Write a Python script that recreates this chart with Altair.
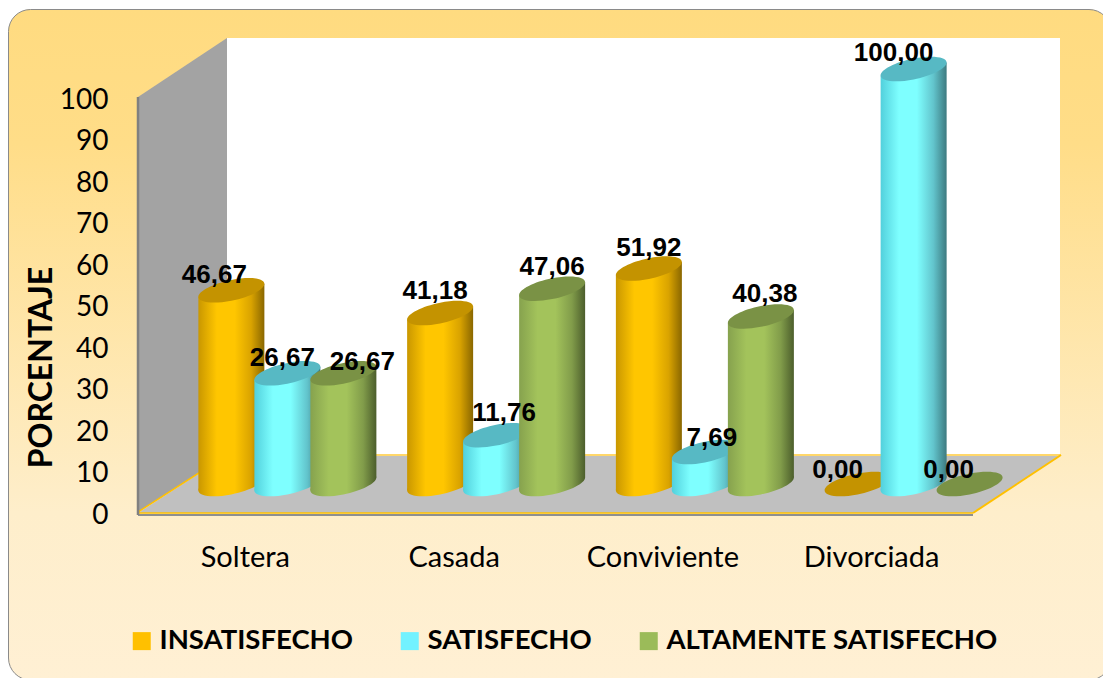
import altair as alt
import pandas as pd

categories = ["Soltera", "Casada", "Conviviente", "Divorciada"]
series = ["INSATISFECHO", "SATISFECHO", "ALTAMENTE SATISFECHO"]
insatisfecho = [46.67, 41.18, 51.92, 0.00]
satisfecho = [26.67, 11.76, 7.69, 100.00]
altamente = [26.67, 47.06, 40.38, 0.00]
values = [insatisfecho, satisfecho, altamente]
y_ticks = list(range(0, 101, 10))

legend_colors = ["#ffc000", "#72f2ff", "#9bbb59"]
top_colors = ["#c49300", "#57b9c4", "#7a9245"]
body_stops = [
    ["#c99700", "#ffc600", "#ffc600", "#d9a300", "#8a6700"],
    ["#52d0dc", "#7effff", "#7effff", "#62c4cc", "#3d7a80"],
    ["#86a24e", "#a3c35b", "#a3c35b", "#819c4a", "#4c5e2c"],
]
stop_offsets = [0.0, 0.28, 0.55, 0.8, 1.0]

# label nudges in pixels (x, y) relative to each cylinder's top centre
label_dx = [[-17, -5, 0, -20], [-5, 8, 7, -20], [19, 0, 4, -21]]
label_dy = [[-15, -22, -21, -14], [-15, -22, -14, -16], [-11, -22, -22, -14]]

W, H = 835, 415
PL, PT = 130, 89
TOTAL_W, TOTAL_H = 1095, 670
SLOPE_PX, SEMI_MINOR = 6.5, 10.4
SEMI_X = 33
PX_PER_UNIT_Y = 4.15
STEP = W / 4
SERIES_OFFSET = 56

x_scale = alt.Scale(domain=[0, 4], range=[45, 880], nice=False, zero=False)
y_scale = alt.Scale(domain=[0, 100], range=[387, -28], nice=False, zero=False)


def ellipse_path():
    k = 0.5523
    def P(c, s):
        return f"{SEMI_X*c:.2f},{-SLOPE_PX*c + SEMI_MINOR*s:.2f}"
    return (f"M{P(1,0)} C{P(1,k)} {P(k,1)} {P(0,1)} "
            f"C{P(-k,1)} {P(-1,k)} {P(-1,0)} "
            f"C{P(-1,-k)} {P(-k,-1)} {P(0,-1)} "
            f"C{P(k,-1)} {P(1,-k)} {P(1,0)} Z")


ELLIPSE = ellipse_path()
one = pd.DataFrame({"a": [0]})

# ---- frame ----
frame = alt.Chart(one).mark_rect(
    fill=alt.Gradient(gradient="linear", x1=0, x2=0, y1=0, y2=1, stops=[
        alt.GradientStop(color="#ffdb80", offset=0),
        alt.GradientStop(color="#ffdd88", offset=0.2),
        alt.GradientStop(color="#feeecb", offset=0.75),
        alt.GradientStop(color="#fff0d4", offset=1),
    ]),
    stroke="#8a8a8a", strokeWidth=1, cornerRadius=22,
).encode(x=alt.value(-129.5), x2=alt.value(973), y=alt.value(-87.5), y2=alt.value(583))

# ---- legend (hidden beneath the frame) ----
legend_layer = alt.Chart(pd.DataFrame({"s": series, "a": [0, 0, 0]})).mark_square(size=1, opacity=1).encode(
    x=alt.value(10), y=alt.value(10),
    color=alt.Color("s:N", sort=series,
                    scale=alt.Scale(domain=series, range=legend_colors),
                    legend=alt.Legend(orient="none", legendX=-10, legendY=530, direction="horizontal",
                                      columns=3, title=None, symbolType="square", symbolSize=324,
                                      symbolStrokeWidth=0, labelFont="Lato", labelFontWeight="bold",
                                      labelFontSize=27.5, labelColor="#000000", labelOffset=4,
                                      columnPadding=43, labelLimit=500)),
)


def poly_v(xs, tops, bots, color):
    return alt.Chart(pd.DataFrame({"x": xs, "t": tops, "b": bots})).mark_area(color=color, opacity=1).encode(
        x=alt.X("x:Q", scale=None, axis=None),
        y=alt.Y("t:Q", scale=None, axis=None),
        y2="b:Q",
    )


left_wall = poly_v([0, 89], [0, -59], [415, 358], "#a3a3a3")
back_wall = poly_v([89, 922], [-59, -59], [358, 358], "#ffffff")
floor = alt.Chart(pd.DataFrame({"y": [358.5, 416], "a": [89, 0], "b": [923, 835]})).mark_area(
    color="#c0c0c0", orient="horizontal", opacity=1).encode(
    y=alt.Y("y:Q", scale=None, axis=None),
    x=alt.X("a:Q", scale=None, axis=None),
    x2="b:Q",
)


def edge(x1, y1, x2, y2, color, w):
    return alt.Chart(one).mark_rule(color=color, strokeWidth=w).encode(
        x=alt.value(x1), y=alt.value(y1), x2=alt.value(x2), y2=alt.value(y2))


edges = [
    edge(89, 358, 923, 358, "#ffd76a", 2),
    edge(0, 415, 89, 358, "#ffc000", 1.5),
    edge(835, 416, 923, 358, "#ffc000", 2),
    edge(0, 416, 835, 416, "#ffc000", 1.5),
    edge(0, 418, 835, 418, "#8f8f8f", 2),
    edge(0, 0, 0, 418, "#808080", 2.5),
]

# ---- cylinders ----
cyl_layers = []
for si, name in enumerate(series):
    rows, tops = [], []
    for ci in range(len(categories)):
        v = values[si][ci]
        pos = ci + 0.5 + (si - 1) * SERIES_OFFSET / STEP
        tops.append({"pos": pos, "v": v, "base": 0})
        if v > 0:
            half_x = SEMI_X / STEP
            slope = SLOPE_PX / PX_PER_UNIT_Y
            rows.append({"c": ci, "x": pos - half_x, "top": v - slope, "bot": -slope})
            rows.append({"c": ci, "x": pos + half_x, "top": v + slope, "bot": slope})
    grad = alt.Gradient(gradient="linear", x1=0, x2=1, y1=0, y2=0, stops=[
        alt.GradientStop(color=c, offset=o) for c, o in zip(body_stops[si], stop_offsets)])
    tdf = pd.DataFrame(tops)
    bottom = alt.Chart(tdf[tdf.v > 0]).mark_point(shape=ELLIPSE, filled=True, size=4, opacity=1, fill=grad, strokeWidth=0).encode(
        x=alt.X("pos:Q", scale=x_scale, axis=None),
        y=alt.Y("base:Q", scale=y_scale, axis=None),
    )
    body = alt.Chart(pd.DataFrame(rows)).mark_area(fill=grad, opacity=1).encode(
        x=alt.X("x:Q", scale=x_scale, axis=None),
        y=alt.Y("top:Q", scale=y_scale, axis=None),
        y2="bot:Q",
        detail="c:N",
    )
    top = alt.Chart(tdf).mark_point(shape=ELLIPSE, filled=True, size=4, opacity=1, fill=top_colors[si], strokeWidth=0).encode(
        x=alt.X("pos:Q", scale=x_scale, axis=None),
        y=alt.Y("v:Q", scale=y_scale, axis=None),
    )
    cyl_layers += [bottom, body, top]

# ---- value labels ----
lab_rows = []
for si in range(len(series)):
    for ci in range(len(categories)):
        v = values[si][ci]
        pos = ci + 0.5 + (si - 1) * SERIES_OFFSET / STEP
        lab_rows.append({
            "pos": pos + label_dx[si][ci] / STEP,
            "v": v - label_dy[si][ci] / PX_PER_UNIT_Y,
            "t": f"{v:.2f}".replace(".", ","),
        })
labels = alt.Chart(pd.DataFrame(lab_rows)).mark_text(
    font="Liberation Sans", fontWeight="bold", fontSize=26, color="#000000", baseline="middle", align="center"
).encode(
    x=alt.X("pos:Q", scale=x_scale, axis=None),
    y=alt.Y("v:Q", scale=y_scale, axis=None),
    text="t:N",
)

# ---- axes ----
axis_df = pd.DataFrame({"c": categories, "v": [0, 0, 0, 0]})
axes = alt.Chart(axis_df).mark_bar(opacity=0).encode(
    x=alt.X("c:N", sort=categories, title=None,
            scale=alt.Scale(domain=categories, range=[3, 838]),
            axis=alt.Axis(labelAngle=0, domain=False, ticks=False, grid=False, labelFont="Lato", zindex=1,
                          labelFontSize=29, labelColor="#000000", labelPadding=45, labelBaseline="middle")),
    y=alt.Y("v:Q", title="PORCENTAJE",
            scale=alt.Scale(domain=[0, 100], range=[415, 0], nice=False),
            axis=alt.Axis(values=y_ticks, domain=False, ticks=False, grid=False, labelFont="Lato", zindex=1,
                          labelFontSize=28, labelColor="#000000", labelPadding=30, labelOffset=3,
                          titleFont="Lato", titleFontWeight="bold", titleFontSize=32, titleColor="#000000",
                          titleX=-97, titleY=270, titleAngle=270, titleAlign="center", titleBaseline="middle")),
)

chart = alt.layer(
    legend_layer, frame, left_wall, back_wall, floor, *edges, *cyl_layers, labels, axes
).resolve_scale(x="independent", y="independent", color="independent").properties(
    width=W, height=H,
    padding={"left": PL, "top": PT, "right": TOTAL_W - PL - W, "bottom": TOTAL_H - PT - H},
    autosize=alt.AutoSizeParams(type="none"),
    background="#ffffff",
).configure_view(stroke=None)

chart.save("out.html", embed_options={"renderer": "svg", "actions": False})
